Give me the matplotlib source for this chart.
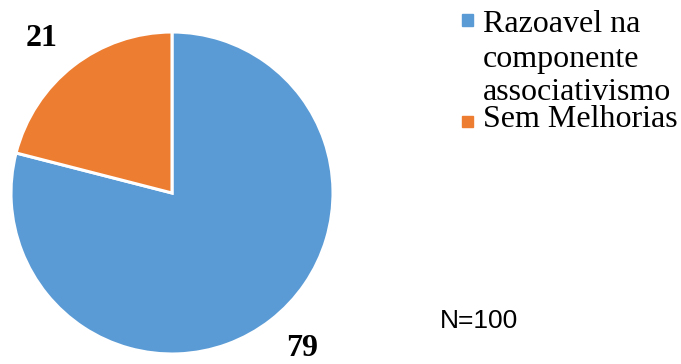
import matplotlib.pyplot as plt
from matplotlib.patches import Rectangle

labels = [["Razoavel na", "componente", "associativismo"], ["Sem Melhorias"]]
values = [79, 21]
colors = ["#5B9BD5", "#ED7D31"]
n_total = 100

W, H = 681, 364
fig = plt.figure(figsize=(W / 100, H / 100), dpi=100)


def fx(x):
    return x / W


def fy(y):
    return 1 - y / H


# pie area: center (172, 193), radius ~161 px
ax = fig.add_axes([fx(11), fy(354), 322 / W, 322 / H])
wedges, _ = ax.pie(values, colors=colors, startangle=90, counterclock=False,
                   radius=1, wedgeprops=dict(edgecolor="white", linewidth=2.2))
ax.set_xlim(-1, 1)
ax.set_ylim(-1, 1)
ax.set_aspect("equal")
ax.axis("off")

# value labels
label_pos = [(302, 349), (42, 38)]
for (x, y), v in zip(label_pos, values):
    fig.text(fx(x), fy(y), str(v), ha="center", va="center",
             fontsize=23, fontweight="bold", family="Liberation Serif")

# legend drawn by hand, baselines taken from the original (lines overlap)
square_y = [20, 121]
baselines = [[32, 67, 100], [127]]
for lines, col, sy, bl in zip(labels, colors, square_y, baselines):
    fig.patches.append(Rectangle((fx(462), fy(sy + 5.5)), 11 / W, 11 / H,
                                 transform=fig.transFigure, color=col))
    for line, b in zip(lines, bl):
        fig.text(fx(483), fy(b), line, ha="left", va="baseline",
                 fontsize=23, family=["Liberation Serif", "DejaVu Serif"])

fig.text(fx(440), fy(321), f"N={n_total}", ha="left", va="center",
         fontsize=19, family="Liberation Sans")

fig.savefig("out.png", dpi=100)
